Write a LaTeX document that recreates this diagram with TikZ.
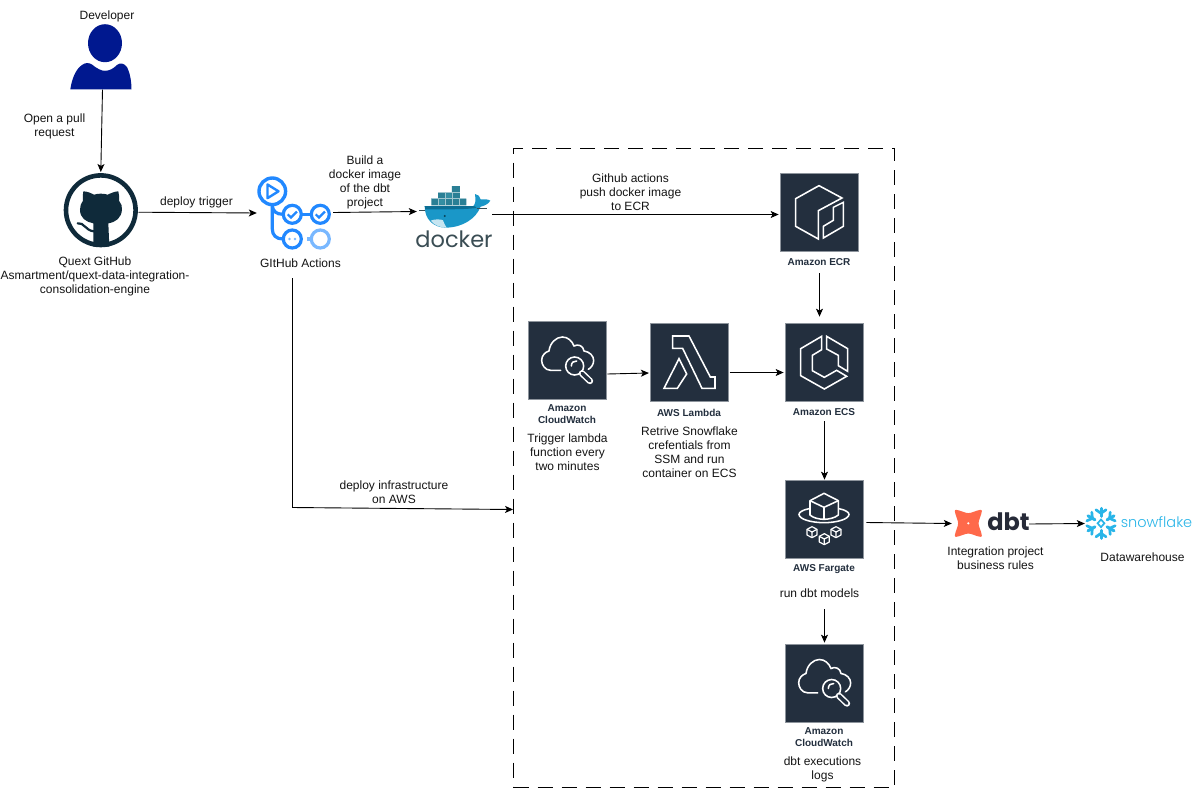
\documentclass[tikz,border=0pt]{standalone}
\usepackage{fontspec}
\setmainfont{Liberation Sans}
\newfontfamily\logofont{Poppins}
\newfontfamily\snowfont{Poppins Light}
\usetikzlibrary{arrows.meta}
\definecolor{awsdark}{HTML}{232F3E}
\definecolor{awsedge}{HTML}{8D949C}
\definecolor{ghdark}{HTML}{0F2A3A}
\definecolor{ghblue}{HTML}{2188FF}
\definecolor{ghlight}{HTML}{79B8FF}
\definecolor{devblue}{HTML}{00188F}
\definecolor{dockertext}{HTML}{3A4D54}
\definecolor{dockerhull}{HTML}{1A97C8}
\definecolor{dockerband}{HTML}{0C6E94}
\definecolor{dockerbox}{HTML}{2A7F95}
\definecolor{dockerboxb}{HTML}{348EA3}
\definecolor{dbtorange}{HTML}{FF694A}
\definecolor{dbtdark}{HTML}{262A38}
\definecolor{snowblue}{HTML}{29B5E8}
\tikzset{
  arr/.style={draw=black,line width=.9pt,-{Stealth[length=8pt,width=7pt,inset=2pt]}},
  txt/.style={inner sep=0pt,align=center,font=\fontsize{12}{14}\selectfont,text=black!92},
  awsbox/.style={fill=awsdark,draw=awsedge,line width=.7pt,minimum size=78pt,inner sep=0pt},
  awslabel/.style={inner sep=0pt,align=center,text=awsdark,font=\fontsize{10}{12}\selectfont\bfseries},
  anchorbox/.style={inner sep=0pt,minimum width=#1},
  iconline/.style={draw=white,line width=1.55pt,line join=miter,fill=none},
  framebox/.style={draw=black,line width=.9pt,dash pattern=on 15pt off 9pt,inner sep=0pt,minimum width=381pt,minimum height=639.5pt},
}
\newcommand{\cwicon}[2]{%
\begin{scope}[shift={(#1,#2)},x=.3333pt,y=-.3333pt]
  \draw[iconline,line cap=round] (98,148) -- (68,148) .. controls (50,148) and (41,130) .. (41,118)
    .. controls (41,103) and (52,93) .. (63,90) .. controls (66,65) and (85,48) .. (103,48)
    .. controls (120,48) and (132,60) .. (138,75) .. controls (150,68) and (166,74) .. (168,90)
    .. controls (185,92) and (197,105) .. (197,118) .. controls (197,130) and (190,140) .. (181,145);
  \fill[awsdark] (140,135) circle [radius=10pt];
  \draw[iconline] (140,135) circle [radius=9pt];
  \draw[iconline,line cap=round] (130,135) .. controls (130,125) and (137,119) .. (146,120);
  \draw[white,line width=6.4pt,line cap=round] (162,157) -- (186,180);
  \draw[awsdark,line width=3.4pt,line cap=round] (162,157) -- (186,180);
\end{scope}}
\newcommand{\smallcube}[2]{%
  \draw[draw=white,line width=1.2pt,line join=round] (#1,#2-16) -- (#1+15,#2-8) -- (#1+15,#2+9) -- (#1,#2+17) -- (#1-15,#2+9) -- (#1-15,#2-8) -- cycle;
  \draw[draw=white,line width=1.2pt] (#1-15,#2-8) -- (#1,#2) -- (#1+15,#2-8) (#1,#2) -- (#1,#2+17);}
\begin{document}
\begin{tikzpicture}[x=1pt,y=-1pt]
\useasboundingbox (0,0) rectangle (1195,788);
\fill[white] (0,0) rectangle (1195,788);

% frame
\node[framebox] (frame) at (704,467.75) {};

% developer
\node[anchorbox=62pt,minimum height=65pt] (dev) at (101,57) {};
\fill[devblue] (105,43.2) ellipse [x radius=17pt,y radius=19pt];
\fill[devblue] (70.3,89.4) .. controls (72,78) and (76,69) .. (82,65) .. controls (85,62.5) and (89,62.5) .. (92,64.5)
  .. controls (98,69.5) and (102,70.8) .. (105,70.8) .. controls (109,70.8) and (113,69) .. (117,65)
  .. controls (120,62.5) and (124,63) .. (127,67) .. controls (129.5,72) and (131.5,80) .. (131.5,89.4) -- cycle;
\node[txt] (devlabel) at (107,16) {Developer};

% github
\node[circle,minimum size=75pt,inner sep=0pt] (gh) at (100.8,210.2) {};
\draw[ghdark,line width=4.6pt] (100.8,210.2) circle [radius=34.8pt];
\begin{scope}[shift={(60,168)},x=.3333pt,y=-.3333pt]
  \fill[ghdark] (70,70) .. controls (82,70) and (94,76) .. (102,80) .. controls (115,76) and (130,76) .. (143,80)
    .. controls (152,76) and (164,70) .. (175,70) .. controls (178,80) and (178,90) .. (177,98)
    .. controls (184,106) and (187,116) .. (186,125) .. controls (184,150) and (168,162) .. (145,166)
    -- (148,236) -- (100,236) -- (100,166) .. controls (78,162) and (60,150) .. (60,125)
    .. controls (60,114) and (63,106) .. (69,98) .. controls (68,88) and (68,80) .. (70,70) -- cycle;
  \draw[ghdark,line width=2.2pt,line cap=round] (53,166) .. controls (72,162) and (76,188) .. (102,190);
\end{scope}
\node[txt] (ghlabel) at (95,276.7) {Quext GitHub\\Asmartment/quext-data-integration-\\consolidation-engine};

% github actions
\node[anchorbox=74pt,minimum height=73pt] (ghact) at (294,212.5) {};
\draw[ghblue,line width=3.4pt] (272.3,191.3) circle [radius=13.3pt];
\draw[ghblue,line width=2.4pt,line join=round] (267.5,184.5) -- (278.5,191.3) -- (267.5,198.2) -- cycle;
\draw[ghblue,line width=3.2pt] (272.3,205) -- (272.3,229) .. controls (272.3,235) and (276,239) .. (283,239);
\draw[ghblue,line width=3.2pt] (272.3,206) .. controls (273,211) and (276,214.3) .. (283,214.3);
\draw[ghblue,line width=3.2pt] (292.3,214.3) circle [radius=9pt];
\draw[ghblue,line width=3.2pt] (320.3,214.3) circle [radius=9pt];
\draw[ghblue,line width=3.2pt] (292.3,239) circle [radius=9pt];
\draw[ghlight,line width=3.2pt] (320.3,239) circle [radius=9pt];
\draw[ghblue,line width=3.2pt] (301,214.3) -- (311.5,214.3);
\draw[ghlight,line width=3.2pt] (307,239) -- (311.5,239);
\draw[ghblue,line width=2.2pt] (287.7,214.3) -- (291,217.5) -- (297,211.5);
\draw[ghblue,line width=2.2pt] (315.7,214.3) -- (319,217.5) -- (325,211.5);
\fill[ghlight] (289.5,239) circle [radius=1.3pt] (295,239) circle [radius=1.3pt];
\node[txt] (actlabel) at (300.5,263) {GItHub Actions};

% docker
\node[anchorbox=75pt,minimum height=63pt] (docker) at (454.5,217.5) {};
\begin{scope}[shift={(410,180)},x=.3333pt,y=-.3333pt]
  \fill[dockerbox] (64,56) rectangle (169,76) (84,38) rectangle (150,56) (126,18) rectangle (150,38);
  \fill[dockerboxb] (106,40) rectangle (125,54) (85,58) rectangle (104,74);
  \draw[white!55!dockerbox,line width=.35pt] (84,56) -- (84,76) (105,38) -- (105,76) (126,38) -- (126,76) (148,56) -- (148,76) (64,56) -- (169,56) (84,38) -- (150,38);
  \fill[dockerhull] (44,78) -- (190,78) .. controls (196,72) and (198,62) .. (195,42)
    .. controls (204,42) and (210,50) .. (212,58) .. controls (222,56) and (234,58) .. (241,62)
    .. controls (236,72) and (222,78) .. (212,80) .. controls (198,115) and (160,142) .. (108,143)
    .. controls (70,143) and (44,118) .. (44,78) -- cycle;
  \fill[dockerband] (44,78) -- (190,78) .. controls (194,78) and (198,80) .. (200,84) .. controls (150,90) and (90,87) .. (46,88) -- cycle;
  \fill[white!75!dockerhull] (62,122) .. controls (75,116) and (95,118) .. (99,121) .. controls (102,130) and (106,137) .. (110,143) .. controls (90,143) and (74,136) .. (62,122) -- cycle;
  \fill[dockerband!60!black] (104,108) circle [radius=1.1pt];
  \draw[dockertext,line width=.5pt] (28,92) -- (44,92) (200,86) -- (232,86);
\end{scope}
\node[inner sep=0pt,font=\fontsize{22.5}{24}\selectfont\logofont,text=dockertext] (dockerword) at (454,239) {docker};

% AWS boxes
\node[awsbox] (ecr) at (819.5,212.5) {};
\begin{scope}[shift={(780,173)},x=.3333pt,y=-.3333pt]
  \draw[iconline] (186,75) -- (117,38) -- (47,77) -- (47,160) -- (115,198) -- (115,113) -- cycle;
  \draw[iconline] (190,88) -- (190,160) -- (130,195) -- (130,160) -- (160,142) -- (160,103) -- cycle;
\end{scope}
\node[awslabel] (ecrlabel) at (819,262.5) {Amazon ECR};

\node[awsbox] (ecs) at (824.5,362) {};
\begin{scope}[shift={(785,323)},x=.3333pt,y=-.3333pt]
  \draw[iconline] (110,40) -- (47,77) -- (47,158) -- (118,198) -- (185,160) -- (155,142) -- (118,163) -- (82,143) -- (82,97) -- (110,80) -- cycle;
  \draw[iconline] (125,40) -- (188,77) -- (188,145) -- (160,128) -- (160,97) -- (125,78) -- cycle;
\end{scope}
\node[awslabel] (ecslabel) at (824,412.5) {Amazon ECS};

\node[awsbox] (cwa) at (567.5,360.5) {};
\cwicon{528}{321}
\node[awslabel] (cwalabel) at (567,414) {Amazon\\CloudWatch};

\node[awsbox] (lambda) at (689.25,362.5) {};
\begin{scope}[shift={(520,315)},x=.3333pt,y=-.3333pt]
  \draw[iconline] (458,63) -- (507,63) -- (571,186) -- (585,186) -- (585,220) -- (546,220) -- (488,100) -- (458,100) -- cycle;
  \draw[iconline] (477,131) -- (500,177) -- (472,220) -- (432,220) -- cycle;
\end{scope}
\node[awslabel] (lambdalabel) at (689,412.5) {AWS Lambda};

\node[awsbox] (fargate) at (824.5,519.5) {};
\begin{scope}[shift={(785,480)},x=.3333pt,y=-.3333pt]
  \draw[iconline,line join=round] (117,40) -- (160,62) -- (160,105) .. controls (150,114) and (130,118) .. (117,118)
    .. controls (104,118) and (84,114) .. (75,105) -- (75,62) -- cycle;
  \draw[iconline] (75,62) -- (117,82) -- (160,62) (117,82) -- (117,118);
  \draw[iconline] (72,86) .. controls (52,90) and (42,97) .. (42,103) .. controls (42,118) and (80,128) .. (117,128)
    .. controls (154,128) and (192,118) .. (192,103) .. controls (192,97) and (182,90) .. (162,86);
  \smallcube{81}{156}
  \smallcube{153}{156}
  \smallcube{118}{177}
\end{scope}
\node[awslabel] (fargatelabel) at (824,569.5) {AWS Fargate};

\node[awsbox] (cwb) at (824.5,683) {};
\cwicon{785}{643.5}
\node[awslabel] (cwblabel) at (824,737) {Amazon\\CloudWatch};

% dbt
\node[anchorbox=76pt,minimum height=30pt] (dbt) at (991,523) {};
\begin{scope}[shift={(940,495)},x=.3333pt,y=-.3333pt]
  \fill[dbtorange,draw=dbtorange,line width=2.4pt,line join=round] (48,48) .. controls (62,50) and (74,58) .. (85,58)
    .. controls (96,58) and (108,50) .. (122,48) .. controls (120,62) and (112,74) .. (112,85)
    .. controls (112,96) and (120,108) .. (122,122) .. controls (108,120) and (96,112) .. (85,112)
    .. controls (74,112) and (62,120) .. (48,122) .. controls (50,108) and (58,96) .. (58,85)
    .. controls (58,74) and (50,62) .. (48,48) -- cycle;
  \fill[white] (85,85) circle [radius=1.2pt];
\end{scope}
\node[inner sep=0pt,font=\fontsize{24}{25}\selectfont\logofont\bfseries,text=dbtdark] (dbtword) at (1008.5,521.5) {dbt};
\node[txt] (dbtlabel) at (995.5,558) {Integration project\\business rules};

% snowflake
\node[anchorbox=106pt,minimum height=33pt] (snow) at (1139,523.5) {};
\begin{scope}[shift={(1101,523.3)}]
  \foreach \a in {90,150,210,270,330,30} {
    \begin{scope}[rotate=\a]
      \draw[snowblue,line width=3pt,line cap=round] (7,0) -- (15,0);
      \draw[snowblue,line width=2.7pt,line cap=round,line join=round] (13.5,-5) -- (10,0) -- (13.5,5);
    \end{scope}
  }
  \draw[snowblue,line width=1.7pt] (0,-3.8) -- (3.4,0) -- (0,3.8) -- (-3.4,0) -- cycle;
\end{scope}
\node[inner sep=0pt,font=\fontsize{14.5}{16}\selectfont\snowfont,text=snowblue] (snowword) at (1156.5,522) {snowflake};
\node[txt] (snowlabel) at (1142.5,557) {Datawarehouse};

% other text
\node[txt] (pulltext) at (54.5,126.2) {Open a pull\\request};
\node[txt] (triggertext) at (196.5,202) {deploy trigger};
\node[txt] (buildtext) at (365,182.7) {Build a\\docker image\\of the dbt\\project};
\node[txt] (pushtext) at (630.5,192) {Github actions\\push docker image\\to ECR};
\node[txt] (infratext) at (394,492) {deploy infrastructure\\on AWS};
\node[txt] (lambdatext) at (567.5,452) {Trigger lambda\\function every\\two minutes};
\node[txt] (ssmtext) at (689.5,452) {Retrive Snowflake\\crefentials from\\SSM and run\\container on ECS};
\node[txt] (runtext) at (819.5,593) {run dbt models};
\node[txt] (logtext) at (822.5,769) {dbt executions\\logs};

% connectors
\draw[arr] ([xshift=1.5pt]dev.south) -- ([yshift=.5pt]gh.north);
\draw[arr] ([yshift=-2pt]gh.east) -- ([yshift=-.5pt]ghact.west);
\draw[arr] ([xshift=2pt]ghact.east) -- ([yshift=6pt]docker.west);
\draw[arr] ([yshift=3pt]docker.east) -- ([xshift=-1.5pt,yshift=-2pt]ecr.west);
\coordinate (deploybend) at (292.5,507.5);
\draw[arr] ([xshift=-1.5pt,yshift=-29pt]ghact.south) -- (deploybend) -- ([yshift=-41.75pt]frame.west);
\draw[arr] ([yshift=-21.5pt]ecr.south) -- ([xshift=-5pt,yshift=6pt]ecs.north);
\draw[arr] ([xshift=.5pt,yshift=-13.5pt]cwa.east) -- ([xshift=-1pt,yshift=-10.5pt]lambda.west);
\draw[arr] ([xshift=1pt,yshift=-10pt]lambda.east) -- ([xshift=-1.5pt,yshift=-10.5pt]ecs.west);
\draw[arr] ([yshift=-20pt]ecs.south) -- ([yshift=.5pt]fargate.north);
\draw[arr] ([xshift=2.5pt,yshift=-3pt]fargate.east) -- ([xshift=-1pt,yshift=-.5pt]dbt.west);
\draw[arr] ([yshift=-1pt]dbt.east) -- ([xshift=-1pt]snow.west);
\draw[arr] ([yshift=-50.5pt]fargate.south) -- ([yshift=1pt]cwb.north);
\end{tikzpicture}
\end{document}
